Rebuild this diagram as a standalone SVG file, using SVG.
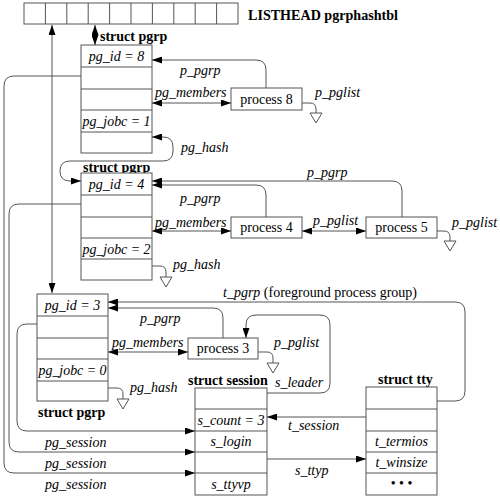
<svg xmlns="http://www.w3.org/2000/svg" width="500" height="497" viewBox="0 0 500 497" font-family="'Liberation Serif', 'Times New Roman', serif">
<defs>
<marker id="ah" viewBox="0 0 10 7" refX="10" refY="3.5" markerWidth="10" markerHeight="7" markerUnits="userSpaceOnUse" orient="auto-start-reverse"><path d="M0,0 L10,3.5 L0,7 z" fill="#000"/></marker>
<style>
.bx{fill:#fff;stroke:#555;stroke-width:1}
.ln{fill:none;stroke:#555;stroke-width:1}
.gnd{fill:#fff;stroke:#555;stroke-width:1}
.a1{marker-end:url(#ah)}
.a2{marker-start:url(#ah);marker-end:url(#ah)}
text{font-family:'Liberation Serif','Times New Roman',serif;font-size:14px;fill:#000}
.it{font-style:italic}
.bd{font-weight:bold}
.c{text-anchor:middle}
</style>
</defs>
<rect width="500" height="497" fill="#fff"/>

<g id="hashtable">
<rect class="bx" x="24" y="3" width="214" height="21"/>
<path class="ln" d="M45.4,3V24M66.8,3V24M88.2,3V24M109.6,3V24M131,3V24M152.4,3V24M173.8,3V24M195.2,3V24M216.6,3V24"/>
<text class="bd" x="248" y="20" textLength="150" lengthAdjust="spacingAndGlyphs">LISTHEAD pgrphashtbl</text>
</g>

<g id="pgrp8">
<text class="bd" x="100" y="41">struct pgrp</text>
<rect class="bx" x="81" y="45" width="71" height="108"/>
<path class="ln" d="M81,67H152M81,89H152M81,110H152M81,132H152"/>
<text class="it c" x="116.5" y="61">pg_id = 8</text>
<text class="it c" x="116.5" y="126" textLength="68" lengthAdjust="spacingAndGlyphs">pg_jobc = 1</text>
</g>

<g id="pgrp4">
<text class="bd" x="83" y="172">struct pgrp</text>
<rect class="bx" x="81" y="173" width="71" height="107"/>
<path class="ln" d="M81,195H152M81,217H152M81,238H152M81,259H152"/>
<text class="it c" x="116.5" y="189">pg_id = 4</text>
<text class="it c" x="116.5" y="254" textLength="68" lengthAdjust="spacingAndGlyphs">pg_jobc = 2</text>
</g>

<g id="pgrp3">
<rect class="bx" x="37" y="294" width="71" height="107"/>
<path class="ln" d="M37,316H108M37,338H108M37,359H108M37,381H108"/>
<text class="it c" x="72.5" y="310">pg_id = 3</text>
<text class="it c" x="72.5" y="375" textLength="68" lengthAdjust="spacingAndGlyphs">pg_jobc = 0</text>
<text class="bd" x="38" y="417">struct pgrp</text>
</g>

<g id="process8">
<rect class="bx" x="231" y="88" width="71" height="22"/>
<text class="c" x="266.5" y="104">process 8</text>
</g>
<g id="process4">
<rect class="bx" x="231" y="217" width="71" height="21"/>
<text class="c" x="266.5" y="232">process 4</text>
</g>
<g id="process5">
<rect class="bx" x="366" y="217" width="71" height="21"/>
<text class="c" x="401.5" y="232">process 5</text>
</g>
<g id="process3">
<rect class="bx" x="188" y="338" width="70" height="21"/>
<text class="c" x="223" y="353">process 3</text>
</g>

<g id="session">
<text class="bd" x="188" y="385">struct session</text>
<rect class="bx" x="195" y="388" width="72" height="107"/>
<path class="ln" d="M195,409H267M195,431H267M195,452H267M195,473H267"/>
<text class="it c" x="231" y="425">s_count = 3</text>
<text class="it c" x="231" y="446">s_login</text>
<text class="it c" x="231" y="489">s_ttyvp</text>
</g>

<g id="tty">
<text class="bd" x="378" y="384">struct tty</text>
<rect class="bx" x="366" y="387" width="71" height="108"/>
<path class="ln" d="M366,409H437M366,431H437M366,452H437M366,473H437"/>
<text class="it c" x="401.5" y="446">t_termios</text>
<text class="it c" x="401.5" y="467">t_winsize</text>
<text class="c" x="401.5" y="488">• • •</text>
</g>

<g id="connectors">
<path class="ln a2" d="M95,25V45"/>
<path class="ln a2" d="M52,25V293"/>
<path class="ln a1" d="M266,88V70Q266,60 256,60H152"/>
<path class="ln a2" d="M152,103H231"/>
<path class="ln" d="M302,103H310Q316,103 316,109V113"/>
<path class="gnd" d="M310,113H322L316,123z"/>
<path class="ln a2" d="M152,137H163Q173,137 173,147V151Q173,161 163,161H70Q60,161 60,171Q60,181 70,181H81"/>
<path class="ln a1" d="M402,217V191Q402,181 392,181H152"/>
<path class="ln a1" d="M266,217V195Q266,185 256,185H152"/>
<path class="ln a2" d="M152,231H231"/>
<path class="ln a2" d="M302,231H366"/>
<path class="ln" d="M437,231H444Q450,231 450,237V241"/>
<path class="gnd" d="M444,241H456L450,251z"/>
<path class="ln" d="M152,266H160Q166,266 166,272V277"/>
<path class="gnd" d="M160,277H172L166,287z"/>
<path class="ln a1" d="M437,401H455Q465,401 465,391V312Q465,302 455,302H108"/>
<path class="ln a1" d="M223,338V318Q223,308 213,308H108"/>
<path class="ln a2" d="M108,352H188"/>
<path class="ln" d="M258,352H267Q273,352 273,358V363"/>
<path class="gnd" d="M267,363H279L273,373z"/>
<path class="ln a1" d="M267,393H320Q330,393 330,383V325Q330,315 320,315H256Q246,315 246,325V338"/>
<path class="ln" d="M108,388H117Q123,388 123,394V399"/>
<path class="gnd" d="M117,399H129L123,409z"/>
<path class="ln a1" d="M81,76H14Q4,76 4,86V463Q4,473 14,473H195"/>
<path class="ln a1" d="M81,204H19Q9,204 9,214V442Q9,452 19,452H195"/>
<path class="ln a1" d="M37,324H27Q17,324 17,334V421Q17,431 27,431H195"/>
<path class="ln a1" d="M366,417H267"/>
<path class="ln a1" d="M267,459H366"/>
<text class="it" x="180" y="75">p_pgrp</text>
<text class="it" x="155" y="97">pg_members</text>
<text class="it" x="315" y="97">p_pglist</text>
<text class="it" x="181" y="152">pg_hash</text>
<text class="it" x="307" y="177">p_pgrp</text>
<text class="it" x="180" y="203">p_pgrp</text>
<text class="it" x="155" y="227">pg_members</text>
<text class="it" x="313" y="225">p_pglist</text>
<text class="it" x="452" y="227">p_pglist</text>
<text class="it" x="173" y="269">pg_hash</text>
<text x="223" y="297"><tspan class="it">t_pgrp</tspan> (foreground process group)</text>
<text class="it" x="140" y="323">p_pgrp</text>
<text class="it" x="112" y="347">pg_members</text>
<text class="it" x="274" y="347">p_pglist</text>
<text class="it" x="275" y="387">s_leader</text>
<text class="it" x="130" y="392">pg_hash</text>
<text class="it" x="288" y="430">t_session</text>
<text class="it" x="295" y="475">s_ttyp</text>
<text class="it" x="45" y="447">pg_session</text>
<text class="it" x="45" y="468">pg_session</text>
<text class="it" x="45" y="489">pg_session</text>
</g>
</svg>
